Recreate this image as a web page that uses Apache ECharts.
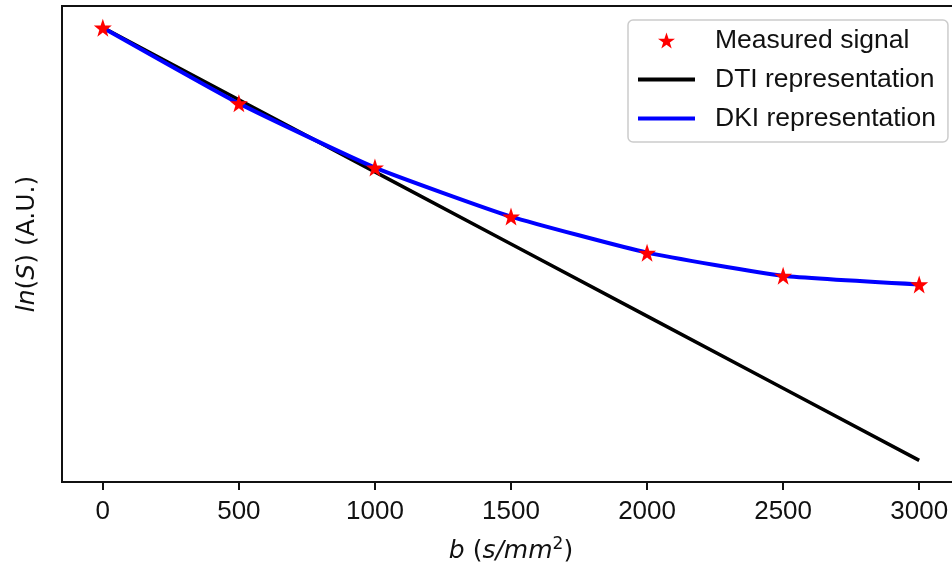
<!DOCTYPE html>
<html>
<head>
<meta charset="utf-8">
<script src="https://cdn.jsdelivr.net/npm/echarts@6/dist/echarts.min.js"></script>
<style>
  html, body { margin: 0; padding: 0; background: #fff; overflow: hidden; }
  #chart { width: 980px; height: 569px; }
</style>
</head>
<body>
<div id="chart"></div>
<script>
// b 值 (s/mm^2)
var bValues = [0, 500, 1000, 1500, 2000, 2500, 3000];
var tickLabels = [0, 500, 1000, 1500, 2000, 2500, 3000];
// ln(S), 任意單位
var measured = [0, -0.525, -0.97, -1.31, -1.56, -1.72, -1.78];
var dtiFit = [0, -0.5, -1.0, -1.5, -2.0, -2.5, -3.0];
var dkiFit = [0, -0.525, -0.97, -1.31, -1.56, -1.72, -1.78];

var starPath = 'path://M50,0 L61.8,35.1 L98.1,35.1 L68.8,56.7 L79.4,90.5 L50,69.7 L20.6,90.5 L31.2,56.7 L1.9,35.1 L38.2,35.1 Z';
var lineIcon = 'path://M0,0 L57,0 L57,4 L0,4 Z';

function pairs(xs, ys) {
    var out = [];
    for (let i = 0; i < xs.length; i++) {
        out.push([xs[i], ys[i]]);
    }
    return out;
}

var myChart = echarts.init(document.getElementById('chart'));

var option = {
    animation: false,
    grid: {
        left: 62,
        top: 6,
        width: 898,
        height: 477,
        show: true,
        borderColor: '#111',
        borderWidth: 2,
        backgroundColor: '#fff'
    },
    legend: {
        orient: 'vertical',
        left: 628,
        top: 20,
        padding: [6, 12, 9, 10],
        itemWidth: 57,
        itemHeight: 16,
        itemGap: 10,
        borderColor: '#ccc',
        borderWidth: 1.5,
        borderRadius: 5,
        backgroundColor: '#fff',
        textStyle: {
            fontFamily: 'Liberation Sans, Arial, sans-serif',
            fontSize: 26.5,
            lineHeight: 29,
            color: '#111',
            padding: [0, 0, 0, 15]
        },
        data: [
            { name: 'Measured signal' },
            { name: 'DTI representation', icon: lineIcon },
            { name: 'DKI representation', icon: lineIcon }
        ]
    },
    xAxis: {
        type: 'value',
        min: -150,
        max: 3150,
        name: '{i|b} ({i|s/mm}{sup|2})',
        nameLocation: 'middle',
        nameGap: 54,
        nameTextStyle: {
            fontFamily: 'DejaVu Sans',
            fontSize: 25,
            color: '#111',
            rich: {
                i: { fontFamily: 'DejaVu Sans', fontSize: 25, fontStyle: 'italic', color: '#111' },
                sup: { fontFamily: 'DejaVu Sans', fontSize: 17, color: '#111', padding: [0, 0, 14, 0] }
            }
        },
        axisLine: { show: true, onZero: false, lineStyle: { color: '#111', width: 2 } },
        axisTick: {
            show: true,
            length: 8,
            customValues: tickLabels,
            lineStyle: { color: '#111', width: 2 }
        },
        axisLabel: {
            customValues: tickLabels,
            formatter: function(v) { return String(v); },
            margin: 17,
            fontFamily: 'Liberation Sans, Arial, sans-serif',
            fontSize: 26,
            color: '#111'
        },
        splitLine: { show: false }
    },
    yAxis: {
        type: 'value',
        min: -3.15,
        max: 0.15,
        name: '{i|ln}({i|S}) (A.U.)',
        nameLocation: 'middle',
        nameRotate: 90,
        nameGap: 22,
        nameTextStyle: {
            fontFamily: 'DejaVu Sans',
            fontSize: 25,
            color: '#111',
            rich: {
                i: { fontFamily: 'DejaVu Sans', fontSize: 25, fontStyle: 'italic', color: '#111' }
            }
        },
        axisLine: { show: true, onZero: false, lineStyle: { color: '#111', width: 2 } },
        axisTick: { show: false },
        axisLabel: { show: false },
        splitLine: { show: false }
    },
    series: [
        {
            name: 'Measured signal',
            type: 'scatter',
            data: pairs(bValues, measured),
            symbol: starPath,
            symbolSize: 18,
            itemStyle: { color: '#ff0000', opacity: 1 },
            z: 5
        },
        {
            name: 'DTI representation',
            type: 'line',
            data: pairs(bValues, dtiFit),
            showSymbol: false,
            symbol: 'none',
            lineStyle: { color: '#000', width: 3.5 },
            itemStyle: { color: '#000' },
            z: 3
        },
        {
            name: 'DKI representation',
            type: 'line',
            data: pairs(bValues, dkiFit),
            showSymbol: false,
            symbol: 'none',
            smooth: 0.15,
            lineStyle: { color: '#0000ff', width: 4 },
            itemStyle: { color: '#0000ff' },
            z: 4
        }
    ]
};

myChart.setOption(option);
</script>
</body>
</html>
